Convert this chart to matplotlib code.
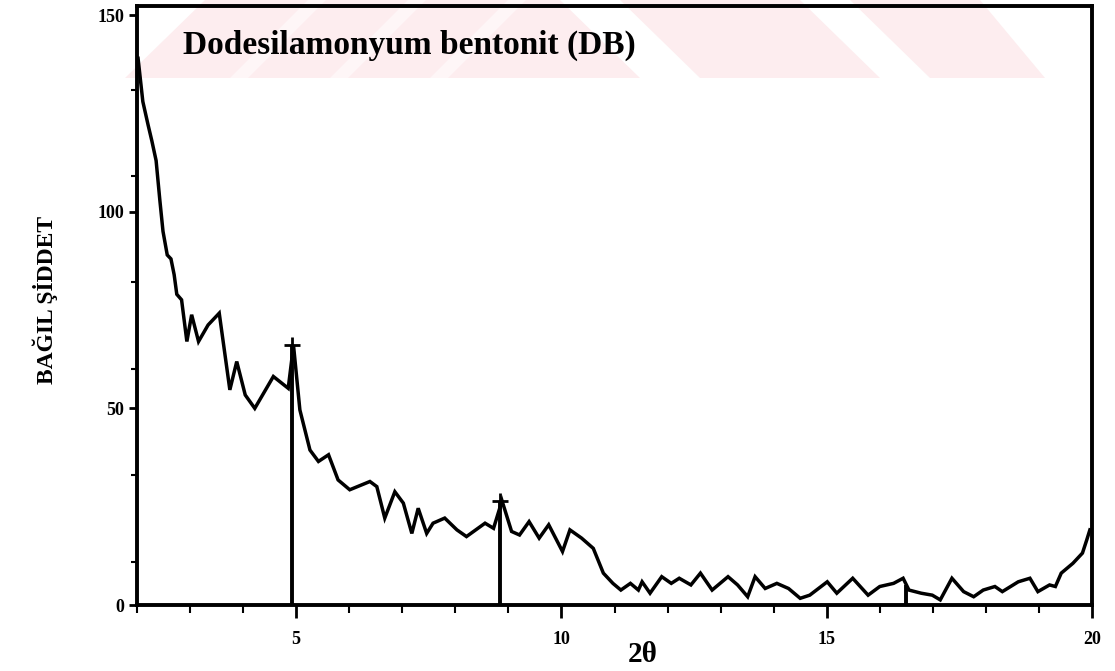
import matplotlib.pyplot as plt
from matplotlib.patches import Polygon
from matplotlib.ticker import FixedLocator, MultipleLocator

# XRD pattern of dodecylammonium bentonite, 2-theta vs relative intensity
two_theta = [2.02, 2.11, 2.21, 2.28, 2.36, 2.43, 2.49, 2.57, 2.64, 2.70, 2.75,
             2.84, 2.94, 3.03, 3.16, 3.34, 3.55, 3.75, 3.88, 4.04, 4.22, 4.57,
             4.85, 4.95, 5.07, 5.26, 5.42, 5.61, 5.79, 6.01, 6.39, 6.52, 6.67,
             6.86, 7.02, 7.18, 7.30, 7.46, 7.58, 7.80, 8.03, 8.21, 8.56, 8.72,
             8.88, 9.06, 9.21, 9.39, 9.58, 9.76, 10.02, 10.16, 10.38, 10.60,
             10.79, 10.97, 11.12, 11.30, 11.45, 11.52, 11.67, 11.89, 12.07,
             12.22, 12.44, 12.62, 12.84, 13.14, 13.32, 13.51, 13.65, 13.84,
             14.06, 14.28, 14.50, 14.68, 15.01, 15.19, 15.49, 15.78, 16.00,
             16.26, 16.44, 16.55, 16.78, 16.99, 17.14, 17.36, 17.58, 17.77,
             17.95, 18.17, 18.31, 18.61, 18.83, 18.98, 19.20, 19.31, 19.42,
             19.64, 19.82, 19.90, 19.96]
intensity = [139, 128, 122, 118, 113, 103, 95, 89, 88, 84, 79,
             77.6, 67, 73.8, 67, 71.2, 74.2, 54.7, 61.9, 53.4, 50, 58.1,
             55.1, 66, 49.6, 39.4, 36.5, 38.2, 31.8, 29.3, 31.4, 30.1, 22.1,
             28.8, 25.9, 18.2, 24.6, 18.2, 20.8, 22.1, 19.1, 17.4, 20.8, 19.5,
             26.5, 18.7, 17.8, 21.2, 17, 20.4, 13.6, 19.1, 17, 14.4,
             8.1, 5.5, 3.8, 5.5, 3.8, 5.9, 3, 7.2, 5.5,
             6.8, 5.1, 8.1, 3.8, 7.2, 5.1, 2.1, 7.2, 4.2,
             5.5, 4.2, 1.7, 2.5, 5.9, 3, 6.8, 2.5, 4.7,
             5.5, 6.8, 3.8, 3, 2.5, 1.3, 6.8, 3.4, 2.1,
             3.8, 4.7, 3.4, 5.9, 6.8, 3.4, 5.1, 4.7, 8.1,
             10.6, 13.2, 16.5, 19.1]

# marked reflections
peak_pos = [4.93, 8.84, 16.5]
peak_height = [66, 26.5, 5]

x_labels = ['5', '10', '15', '20']
x_label_pos = [5, 10, 15, 20]
y_label_pos = [0, 50, 100, 150]

plt.rcParams['font.family'] = ['Liberation Serif', 'DejaVu Serif']
plt.rcParams['font.weight'] = 'bold'

fig = plt.figure(figsize=(11.15, 6.71), dpi=100)

# pale pink watermark band across the top of the sheet
W, H = 1115, 671
def px(pts):
    return [(x / W, 1 - y / H) for x, y in pts]

band = [
    [(125, 78), (205, 0), (560, 0), (640, 78)],
    [(700, 78), (620, 0), (800, 0), (880, 78)],
    [(930, 78), (850, 0), (980, 0), (1045, 78)],
]
for pts in band:
    fig.patches.append(Polygon(px(pts), closed=True, transform=fig.transFigure,
                               facecolor='#fdedef', edgecolor='none', zorder=-2))
# lighter slanted streaks inside the left part
for x0 in (230, 330, 430):
    pts = [(x0, 78), (x0 + 78, 0), (x0 + 96, 0), (x0 + 18, 78)]
    fig.patches.append(Polygon(px(pts), closed=True, transform=fig.transFigure,
                               facecolor='#fef6f7', edgecolor='none', zorder=-1))

ax = fig.add_axes([137 / W, 1 - 605 / H, (1092 - 137) / W, (605 - 6) / H])
ax.set_facecolor('none')

ax.plot(two_theta, intensity, color='black', lw=2.5, solid_joinstyle='miter')
ax.vlines(peak_pos, 0, peak_height, color='black', lw=2.8)
ax.plot(peak_pos[:2], peak_height[:2], '+', color='black', ms=11, mew=2)

ax.set_xlim(2, 20)
ax.set_ylim(0, 152.3)

ax.xaxis.set_major_locator(FixedLocator(x_label_pos))
ax.set_xticklabels(x_labels, fontsize=13, fontweight='bold')
ax.xaxis.set_minor_locator(MultipleLocator(1))
ax.yaxis.set_major_locator(FixedLocator(y_label_pos))
ax.set_yticklabels([str(v) for v in y_label_pos], fontsize=13, fontweight='bold')
ax.yaxis.set_minor_locator(FixedLocator([11, 33, 60, 82, 109, 131]))

ax.tick_params(axis='x', which='major', direction='out', length=9, width=2, pad=10)
ax.tick_params(axis='x', which='minor', direction='out', length=6, width=1.5)
ax.tick_params(axis='y', which='major', direction='out', length=6, width=2, pad=3)
ax.tick_params(axis='y', which='minor', direction='out', length=4, width=1.5)

for s in ax.spines.values():
    s.set_linewidth(2.8)

ax.text(0.048, 0.935, 'Dodesilamonyum bentonit (DB)', transform=ax.transAxes,
        fontsize=24, fontweight='bold', va='center', ha='left', zorder=5)

fig.text(45 / W, 1 - 300 / H, 'BAĞIL ŞİDDET', rotation=90, fontsize=17,
         fontweight='bold', ha='center', va='center')
fig.text(643 / W, 1 - 655 / H, '2θ', fontsize=21, fontweight='bold',
         ha='center', va='center')

fig.savefig('out.png', dpi=100)
